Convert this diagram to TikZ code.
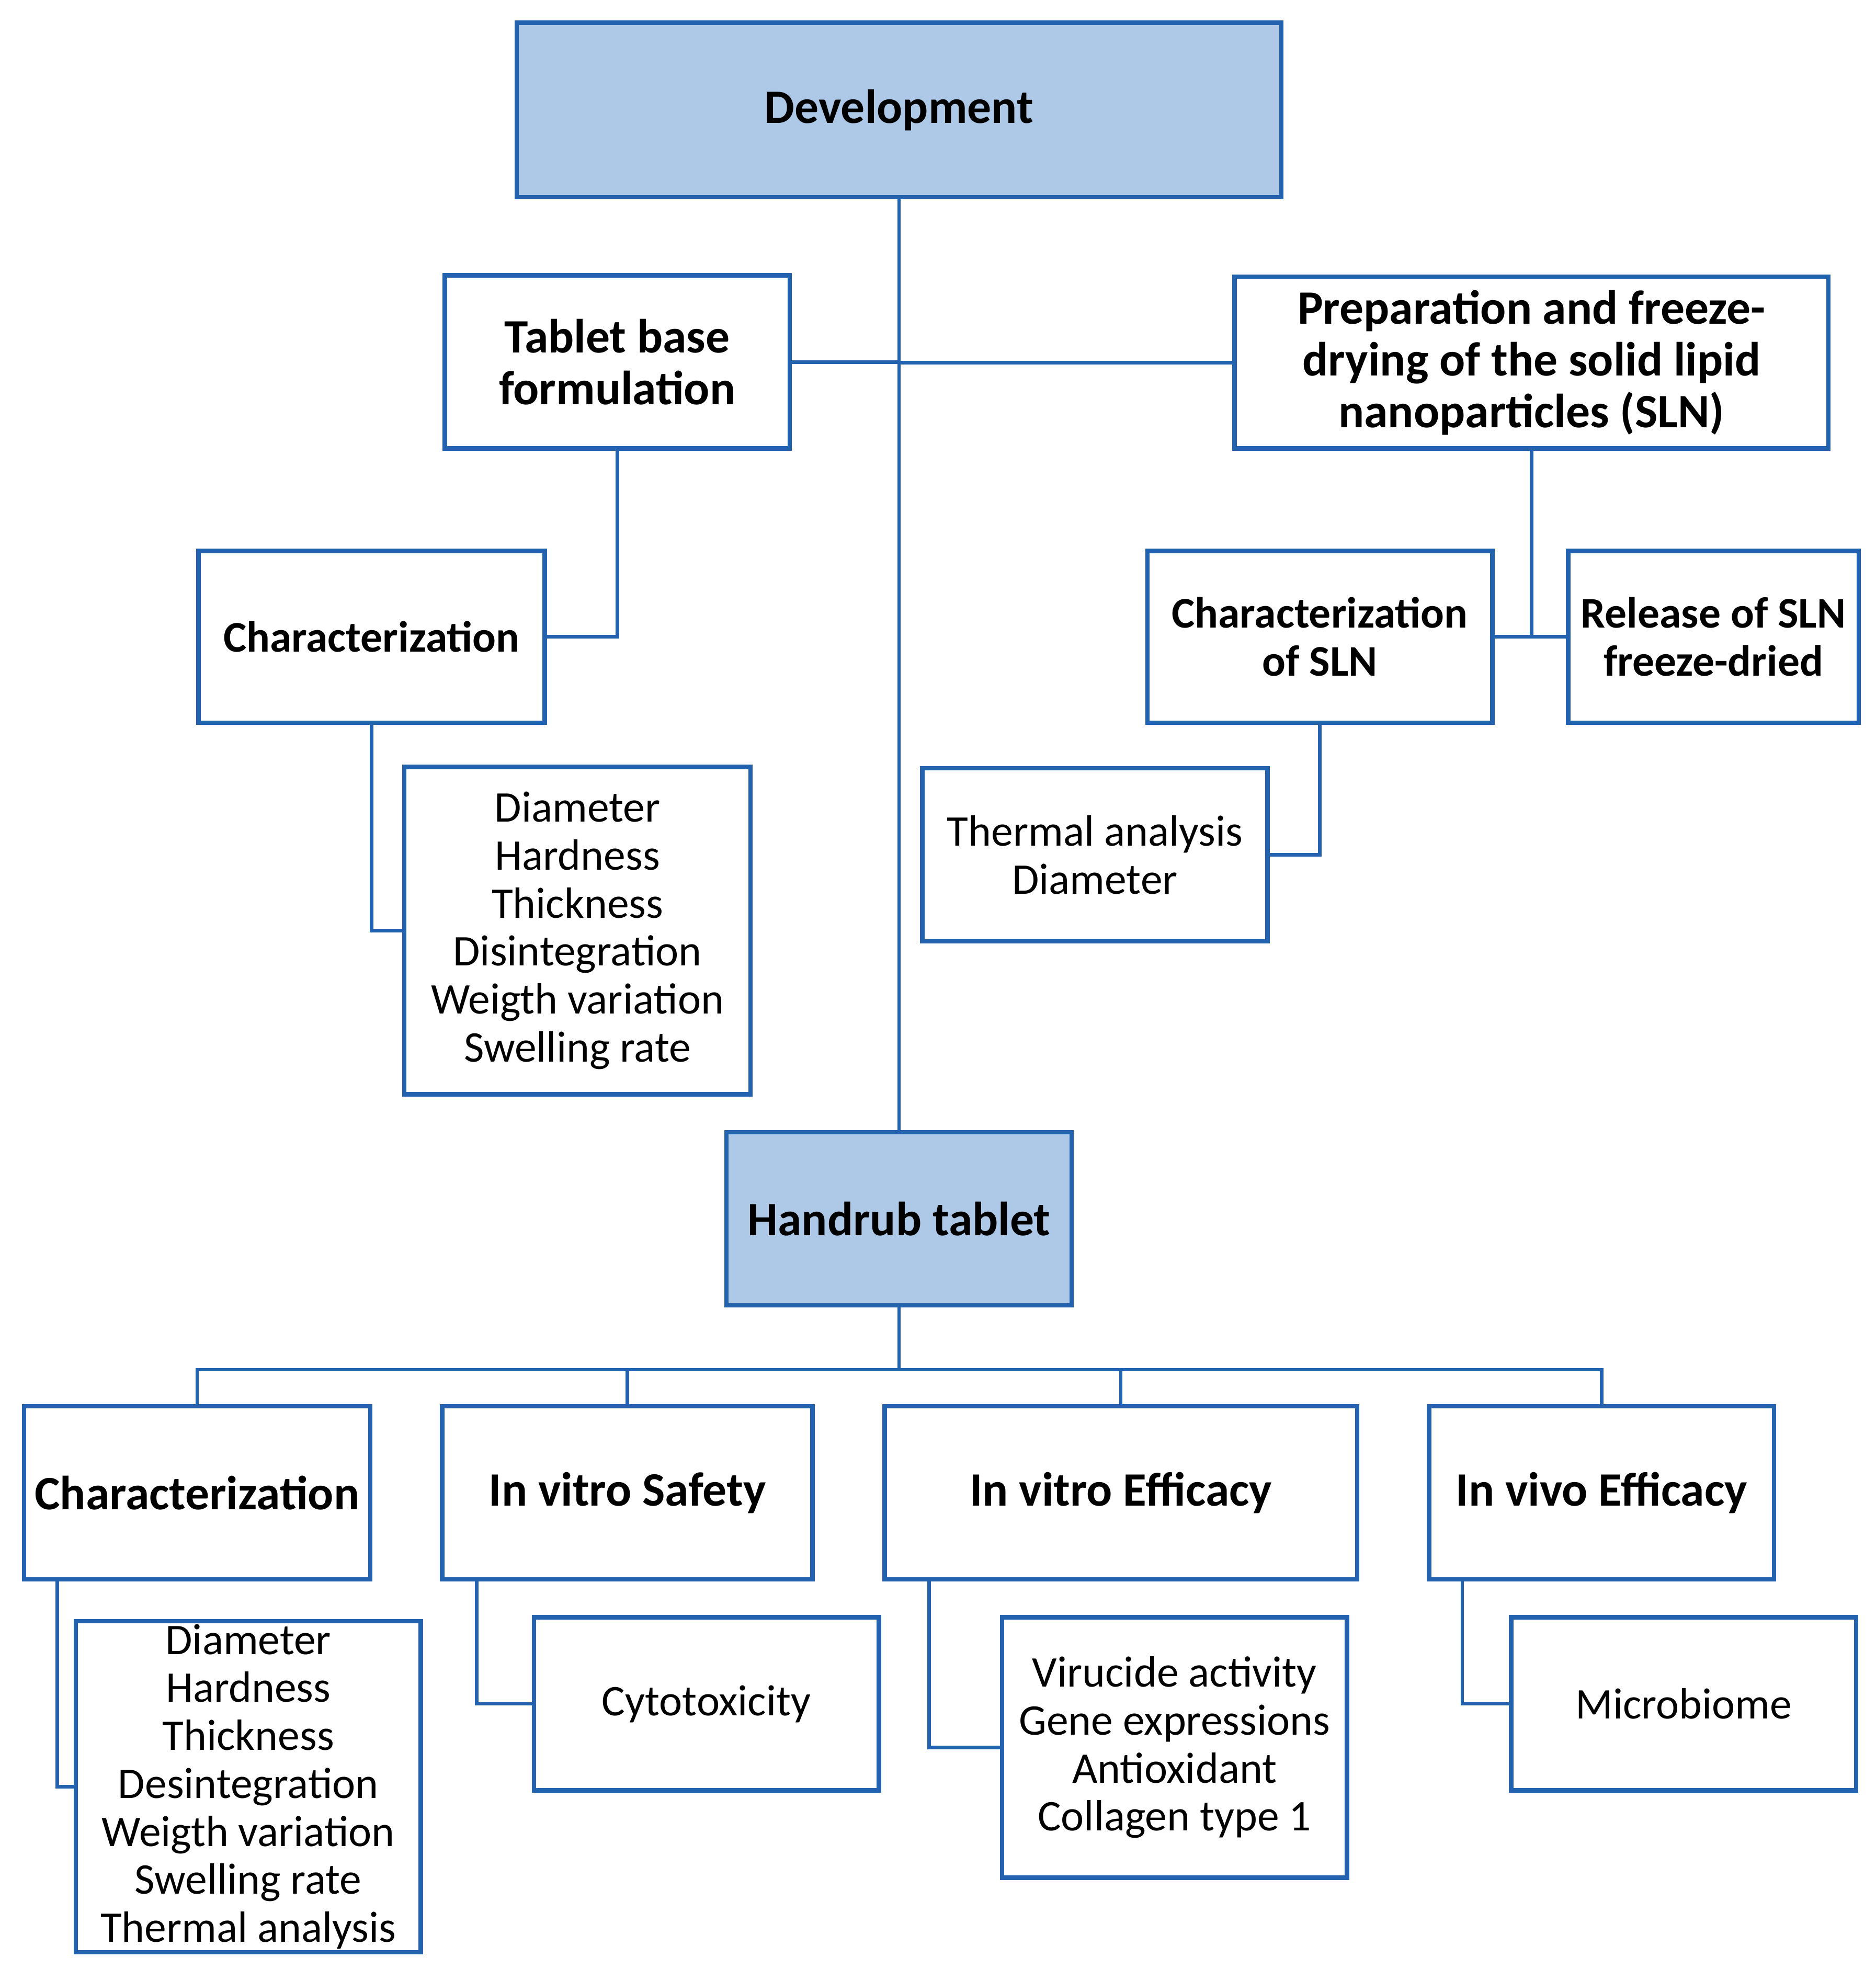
\documentclass[tikz,border=0pt]{standalone}
\usepackage{fontspec}
\setmainfont{Carlito}
\definecolor{lineblue}{HTML}{2262AE}
\definecolor{fillblue}{HTML}{AEC8E8}
\tikzset{
	box/.style={draw=lineblue, line width=2pt, inner sep=0pt, align=center, minimum width=5.46cm, minimum height=2.74cm},
	headbox/.style={box, fill=fillblue},
	bigtxt/.style={font=\bfseries\fontsize{21.6}{23.3}\selectfont},
	smalltxt/.style={font=\bfseries\fontsize{19.7}{21.6}\selectfont},
	itemtxt/.style={font=\fontsize{19.7}{21.6}\selectfont},
	link/.style={draw=lineblue, line width=1.6pt}
}
\begin{document}
\begin{tikzpicture}[line join=miter]
	\useasboundingbox (0,0) rectangle (29.69,-31.357);
	% top part
	\node[headbox, bigtxt, minimum width=12.1cm, minimum height=2.76cm] (dev) at (14.23,-1.74) {Development};
	\node[box, bigtxt] (tbf) at (9.77,-5.73) {Tablet base\\formulation};
	\node[box, bigtxt, minimum width=9.4cm, minimum height=2.72cm] (prep) at (24.24,-5.74) {Preparation and freeze-\\drying of the solid lipid\\nanoparticles (SLN)};
	\node[box, smalltxt, minimum width=5.48cm, minimum height=2.72cm] (charT) at (5.88,-10.08) {Characterization};
	\node[box, smalltxt, minimum height=2.72cm] (charSLN) at (20.89,-10.08) {Characterization\\of SLN};
	\node[box, smalltxt, minimum width=4.6cm, minimum height=2.72cm] (rel) at (27.12,-10.08) {Release of SLN\\freeze-dried};
	\node[box, itemtxt, minimum width=5.48cm, minimum height=5.18cm] (listT) at (9.14,-14.73) {Diameter\\Hardness\\Thickness\\Disintegration\\Weigth variation\\Swelling rate};
	\node[box, itemtxt] (therm) at (17.33,-13.53) {Thermal analysis\\Diameter};
	\node[headbox, bigtxt] (hand) at (14.23,-19.29) {Handrub tablet};
	% bottom part
	\node[box, bigtxt, minimum width=5.48cm] (charB) at (3.12,-23.63) {Characterization};
	\node[box, bigtxt, minimum width=5.86cm] (safe) at (9.93,-23.63) {In vitro Safety};
	\node[box, bigtxt, minimum width=7.48cm] (eff) at (17.74,-23.63) {In vitro Efficacy};
	\node[box, bigtxt] (vivo) at (25.35,-23.63) {In vivo Efficacy};
	\node[box, itemtxt, minimum height=5.24cm] (listB) at (3.93,-28.28) {Diameter\\Hardness\\Thickness\\Desintegration\\Weigth variation\\Swelling rate\\Thermal analysis};
	\node[box, itemtxt] (cyto) at (11.18,-26.97) {Cytotoxicity};
	\node[box, itemtxt, minimum height=4.12cm] (vir) at (18.59,-27.66) {Virucide activity\\Gene expressions\\Antioxidant\\Collagen type 1};
	\node[box, itemtxt] (micro) at (26.65,-26.97) {Microbiome};
	% connectors
	\draw[link] (dev.south) -- (hand.north);
	\draw[link] (tbf.east) -- (tbf.east -| dev.south);
	\draw[link] (prep.west) -- (prep.west -| dev.south);
	\draw[link] (tbf.south) |- (charT.east);
	\draw[link] (charT.south) |- (listT.west);
	\draw[link] (charSLN.east) -- (rel.west);
	\draw[link] (prep.south) -- (prep.south |- rel.west);
	\draw[link] (charSLN.south) |- (therm.east);
	\coordinate (bus) at (14.23,-21.68);
	\draw[link] (hand.south) -- (bus);
	\draw[link] (charB.north) -- (charB.north |- bus) -- (vivo.north |- bus) -- (vivo.north);
	\draw[link] (safe.north) -- (safe.north |- bus);
	\draw[link] (eff.north) -- (eff.north |- bus);
	\draw[link] ([xshift=0.56cm]charB.south west) |- (listB.west);
	\draw[link] ([xshift=0.58cm]safe.south west) |- (cyto.west);
	\draw[link] ([xshift=0.74cm]eff.south west) |- (vir.west);
	\draw[link] ([xshift=0.56cm]vivo.south west) |- (micro.west);
\end{tikzpicture}
\end{document}
